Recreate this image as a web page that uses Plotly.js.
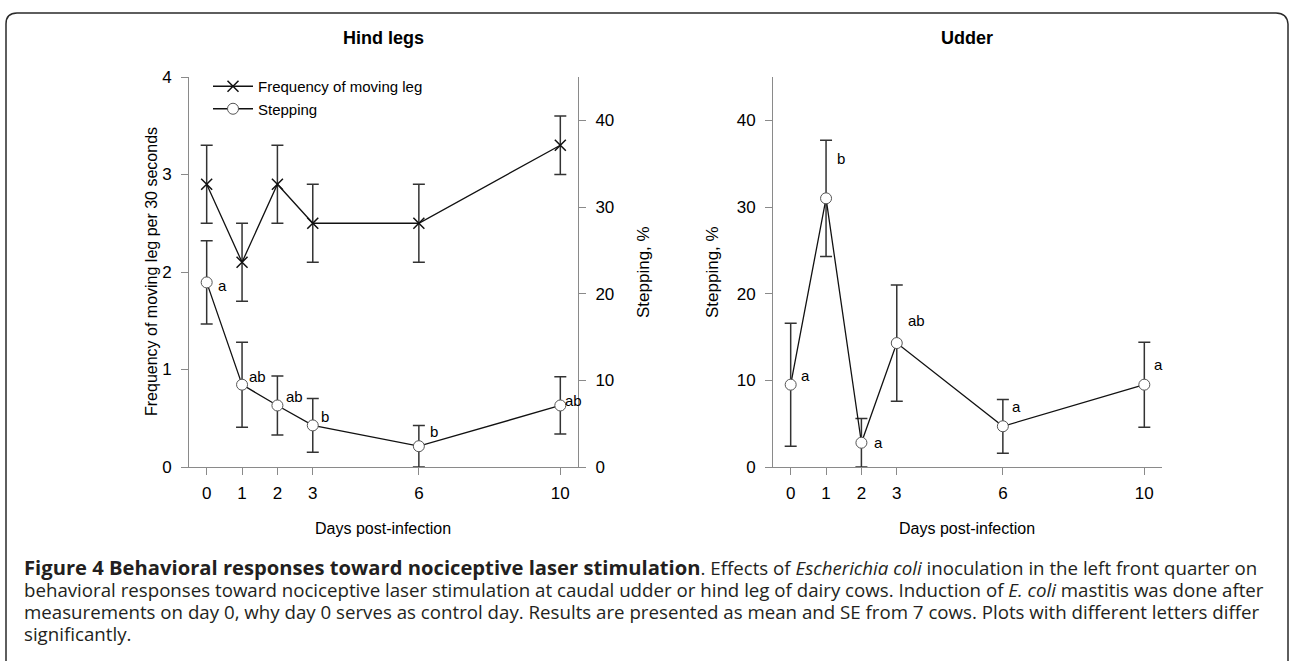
<!DOCTYPE html>
<html>
<head>
<meta charset="utf-8">
<script src="https://cdn.plot.ly/plotly-3.0.1.min.js"></script>
<style>html,body{margin:0;padding:0;background:#fff;}#chart{width:1290px;height:661px;}</style>
</head>
<body>
<div id="chart"></div>
<script>
// ---- data ----
const days = [0, 1, 2, 3, 6, 10];
const freqMean = [2.9, 2.1, 2.9, 2.5, 2.5, 3.3];
const freqSE = [0.4, 0.4, 0.4, 0.4, 0.4, 0.3];
const stepHindMean = [21.3, 9.5, 7.1, 4.8, 2.4, 7.1];
const stepHindSE = [4.8, 4.9, 3.4, 3.1, 2.4, 3.3];
const stepUdderMean = [9.5, 31.0, 2.8, 14.3, 4.7, 9.5];
const stepUdderSE = [7.1, 6.7, 2.8, 6.7, 3.1, 4.9];
const hindLetters = ['a', 'ab', 'ab', 'b', 'b', 'ab'];
const udderLetters = ['a', 'b', 'a', 'ab', 'a', 'a'];
const xTickVals = [0, 1, 2, 3, 6, 10];
const freqTicks = [0, 1, 2, 3, 4];
const stepTicks = [0, 10, 20, 30, 40];
const captionLines = [
  '<span style="font-size:20.2px"><b>Figure 4 Behavioral responses toward nociceptive laser stimulation</b></span>. Effects of <i>Escherichia coli</i> inoculation in the left front quarter on',
  'behavioral responses toward nociceptive laser stimulation at caudal udder or hind leg of dairy cows. Induction of <i>E. coli</i> mastitis was done after',
  'measurements on day 0, why day 0 serves as control day. Results are presented as mean and SE from 7 cows. Plots with different letters differ',
  'significantly.'
];

// ---- layout helpers (pixel -> paper) ----
const W = 1290, H = 661;
const px = v => v / W;
const py = v => 1 - v / H;
const FONT = 'Liberation Sans, Arial, sans-serif';

const errStyle = {color: '#333333', thickness: 1.5, width: 6};

const traces = [
  {
    x: days, y: freqMean, type: 'scatter', mode: 'lines+markers',
    name: 'Frequency of moving leg', xaxis: 'x', yaxis: 'y',
    line: {color: '#111', width: 1.3},
    marker: {symbol: 'x-thin-open', size: 11, color: '#111', line: {color: '#111', width: 1.5}},
    error_y: Object.assign({type: 'data', array: freqSE, visible: true}, errStyle)
  },
  {
    x: days, y: stepHindMean, type: 'scatter', mode: 'lines+markers',
    name: 'Stepping', xaxis: 'x', yaxis: 'y2',
    line: {color: '#111', width: 1.3},
    marker: {symbol: 'circle', size: 11, color: '#ffffff', line: {color: '#555', width: 1}},
    error_y: Object.assign({type: 'data', array: stepHindSE, visible: true}, errStyle)
  },
  {
    x: days, y: stepUdderMean, type: 'scatter', mode: 'lines+markers',
    name: 'Stepping (udder)', xaxis: 'x2', yaxis: 'y3', showlegend: false,
    line: {color: '#111', width: 1.3},
    marker: {symbol: 'circle', size: 11, color: '#ffffff', line: {color: '#555', width: 1}},
    error_y: Object.assign({type: 'data', array: stepUdderSE, visible: true}, errStyle)
  }
];

const axisBase = {
  showgrid: false, zeroline: false, showline: true, linecolor: '#8a8a8a', linewidth: 1,
  ticks: 'outside', ticklen: 7, tickcolor: '#8a8a8a', tickwidth: 1,
  tickfont: {family: FONT, size: 17, color: '#000'}
};

const layout = {
  width: W, height: H,
  margin: {l: 0, r: 0, t: 0, b: 0},
  paper_bgcolor: '#fff', plot_bgcolor: '#fff',
  showlegend: true,
  legend: {
    x: px(208), y: py(70), xanchor: 'left', yanchor: 'top',
    bgcolor: 'rgba(0,0,0,0)', font: {family: FONT, size: 15, color: '#000'},
    itemwidth: 40, tracegroupgap: 0
  },
  xaxis: Object.assign({}, axisBase, {
    domain: [px(189), px(578)], range: [-0.5, 10.5], tickvals: xTickVals,
    anchor: 'y', ticklabelstandoff: 4
  }),
  yaxis: Object.assign({}, axisBase, {
    domain: [py(467), py(77)], range: [0, 4], tickvals: freqTicks,
    anchor: 'x', ticklabelstandoff: 6
  }),
  yaxis2: Object.assign({}, axisBase, {
    range: [0, 45], tickvals: stepTicks, overlaying: 'y', side: 'right',
    anchor: 'x', ticklabelstandoff: 6
  }),
  xaxis2: Object.assign({}, axisBase, {
    domain: [px(773), px(1162)], range: [-0.5, 10.5], tickvals: xTickVals,
    anchor: 'y3', ticklabelstandoff: 4
  }),
  yaxis3: Object.assign({}, axisBase, {
    domain: [py(467), py(77)], range: [0, 45], tickvals: stepTicks,
    anchor: 'x2', ticklabelstandoff: 6
  }),
  annotations: [],
  shapes: [
    {
      type: 'path', xref: 'paper', yref: 'paper',
      path: `M ${px(6)},${py(661)} L ${px(6)},${py(24)} Q ${px(6)},${py(13)} ${px(17)},${py(13)} ` +
            `L ${px(1276)},${py(13)} Q ${px(1287)},${py(13)} ${px(1288)},${py(24)} L ${px(1288)},${py(661)}`,
      line: {color: '#2a2a2a', width: 1.5}
    }
  ]
};

const ann = layout.annotations;
// panel titles
ann.push({text: '<b>Hind legs</b>', xref: 'paper', yref: 'paper', x: px(383), y: py(38), showarrow: false,
  xanchor: 'center', yanchor: 'middle', font: {family: FONT, size: 18, color: '#000'}});
ann.push({text: '<b>Udder</b>', xref: 'paper', yref: 'paper', x: px(967), y: py(38), showarrow: false,
  xanchor: 'center', yanchor: 'middle', font: {family: FONT, size: 18, color: '#000'}});
// axis titles
ann.push({text: 'Frequency of moving leg per 30 seconds', xref: 'paper', yref: 'paper', x: px(151), y: py(272),
  textangle: -90, showarrow: false, xanchor: 'center', yanchor: 'middle', font: {family: FONT, size: 16, color: '#000'}});
ann.push({text: 'Stepping, %', xref: 'paper', yref: 'paper', x: px(643), y: py(272),
  textangle: -90, showarrow: false, xanchor: 'center', yanchor: 'middle', font: {family: FONT, size: 17, color: '#000'}});
ann.push({text: 'Stepping, %', xref: 'paper', yref: 'paper', x: px(712), y: py(272),
  textangle: -90, showarrow: false, xanchor: 'center', yanchor: 'middle', font: {family: FONT, size: 17, color: '#000'}});
ann.push({text: 'Days post-infection', xref: 'paper', yref: 'paper', x: px(383), y: py(528), showarrow: false,
  xanchor: 'center', yanchor: 'middle', font: {family: FONT, size: 16, color: '#000'}});
ann.push({text: 'Days post-infection', xref: 'paper', yref: 'paper', x: px(967), y: py(528), showarrow: false,
  xanchor: 'center', yanchor: 'middle', font: {family: FONT, size: 16, color: '#000'}});

// significance letters
const hindShift = [[9, -3], [5, 8], [7, 9], [6, 9], [9, 15], [3, 5]];
const udderShift = [[8, 9], [9, 40], [11, 0], [9, 23], [7, 20], [8, 20]];
days.forEach((d, i) => {
  ann.push({text: hindLetters[i], xref: 'x', yref: 'y2', x: d, y: stepHindMean[i], showarrow: false,
    xanchor: 'left', yanchor: 'middle', xshift: hindShift[i][0], yshift: hindShift[i][1],
    font: {family: FONT, size: 15, color: '#000'}});
  ann.push({text: udderLetters[i], xref: 'x2', yref: 'y3', x: d, y: stepUdderMean[i], showarrow: false,
    xanchor: 'left', yanchor: 'middle', xshift: udderShift[i][0], yshift: udderShift[i][1],
    font: {family: FONT, size: 15, color: '#000'}});
});

// caption
const capY = [567, 589, 611, 633];
captionLines.forEach((t, i) => {
  ann.push({text: t, xref: 'paper', yref: 'paper', x: px(23), y: py(capY[i]), showarrow: false,
    xanchor: 'left', yanchor: 'middle', align: 'left', borderpad: 0,
    font: {family: 'Open Sans, Noto Sans, sans-serif', size: 18.7, color: '#231f20'}});
});

Plotly.newPlot('chart', traces, layout, {displayModeBar: false, staticPlot: true});
</script>
</body>
</html>
